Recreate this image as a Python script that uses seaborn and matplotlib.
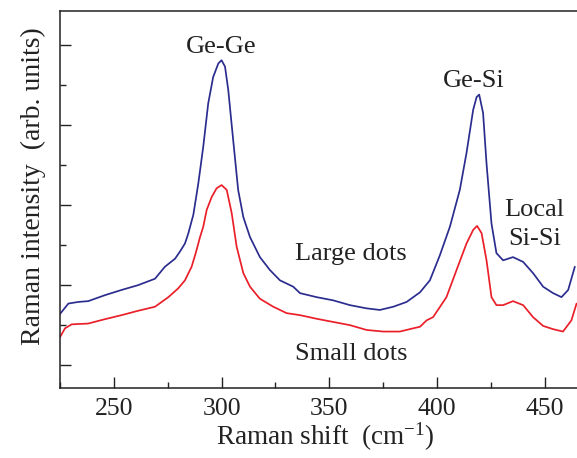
import numpy as np
import pandas as pd
import matplotlib
matplotlib.use("Agg")
import matplotlib.pyplot as plt
from matplotlib.ticker import MultipleLocator
import seaborn as sns

# Large dots (blue): Raman shift (cm^-1) vs intensity (arb. units)
large_shift = [225.0, 228.9, 233.5, 238.1, 245.9, 253.6, 261.3, 269.1, 273.7, 278.4,
               280.7, 283.0, 284.5, 286.9, 289.2, 291.5, 293.8, 296.1, 298.5,
               300.0, 301.6, 303.1, 305.4, 307.7, 310.1, 313.2, 317.8, 322.4, 327.1,
               333.3, 336.4, 344.1, 351.8, 359.6, 367.3, 373.5, 379.7, 385.9, 392.1,
               396.7, 401.3, 406.0, 410.6, 413.7, 416.8, 418.4, 419.6, 421.4, 423.0,
               425.3, 427.6, 430.7, 435.3, 440.0, 444.6, 449.3, 453.9, 457.8, 460.9,
               464.0]
large_int = [0.64, 0.77, 0.79, 0.80, 0.875, 0.94, 1.00, 1.08, 1.23, 1.33,
             1.42, 1.52, 1.64, 1.88, 2.27, 2.73, 3.27, 3.60, 3.77,
             3.81, 3.73, 3.44, 2.81, 2.19, 1.85, 1.60, 1.35, 1.19, 1.06,
             0.98, 0.90, 0.85, 0.81, 0.75, 0.71, 0.69, 0.73, 0.79, 0.91,
             1.06, 1.37, 1.73, 2.19, 2.65, 3.19, 3.35, 3.38, 3.15, 2.52,
             1.77, 1.40, 1.31, 1.35, 1.29, 1.15, 0.98, 0.90, 0.85, 0.94,
             1.23]

# Small dots (red)
small_shift = [225.0, 227.3, 230.4, 238.1, 245.9, 253.6, 261.3, 269.1, 275.3, 279.9,
               283.0, 286.1, 288.0, 290.0, 291.5, 293.1, 295.4, 297.7, 300.0, 302.4,
               304.7, 307.0, 310.1, 313.2, 317.8, 324.0, 330.2, 336.4, 344.1, 351.8,
               359.6, 367.3, 375.0, 382.8, 388.9, 392.1, 395.2, 398.2, 404.4, 409.1,
               413.7, 416.8, 418.6, 420.7, 423.0, 425.3, 427.6, 430.7, 435.3, 440.0,
               444.6, 449.3, 453.9, 458.5, 462.4, 464.8]
small_int = [0.35, 0.46, 0.51, 0.52, 0.575, 0.625, 0.68, 0.73, 0.85, 0.96,
             1.06, 1.23, 1.40, 1.60, 1.73, 1.94, 2.10, 2.21, 2.25, 2.19,
             1.90, 1.48, 1.15, 0.98, 0.83, 0.73, 0.65, 0.625, 0.58, 0.54,
             0.50, 0.44, 0.42, 0.42, 0.46, 0.48, 0.56, 0.60, 0.85, 1.19,
             1.52, 1.69, 1.74, 1.65, 1.31, 0.85, 0.75, 0.75, 0.80, 0.75,
             0.60, 0.49, 0.45, 0.42, 0.56, 0.77]

x_ticks = [250, 300, 350, 400, 450]

sns.set_style("ticks")
plt.rcParams['font.family'] = ['Liberation Serif', 'DejaVu Serif']
plt.rcParams['mathtext.default'] = 'regular'

df_large = pd.DataFrame({'shift': large_shift, 'intensity': large_int})
df_small = pd.DataFrame({'shift': small_shift, 'intensity': small_int})

fig = plt.figure(figsize=(5.77, 4.58), dpi=100)
ax = fig.add_axes([0.104, 0.152, 0.896, 0.824])

sns.lineplot(data=df_large, x='shift', y='intensity', ax=ax, color='#2b2d8e', lw=1.25)
sns.lineplot(data=df_small, x='shift', y='intensity', ax=ax, color='#ea1f29', lw=1.25)

ax.set_xlim(225, 465)
ax.set_ylim(-0.29, 4.425)
ax.set_xticks(x_ticks)
ax.xaxis.set_minor_locator(MultipleLocator(25))
ax.yaxis.set_major_locator(MultipleLocator(1))
ax.yaxis.set_minor_locator(MultipleLocator(0.5))
ax.set_yticklabels([])
ax.tick_params(which='major', direction='in', length=8, width=1, labelsize=18.5, pad=7,
               colors='#222222')
ax.tick_params(which='minor', direction='in', length=4, width=1, colors='#222222')
ax.tick_params(axis='y', which='major', labelleft=False)
ax.tick_params(axis='x', which='major', top=False)

for side in ['left', 'bottom', 'top']:
    ax.spines[side].set_linewidth(1.1)
    ax.spines[side].set_color('#222222')
ax.spines['right'].set_visible(False)

ax.set_xlabel('Raman shift  (cm$^{-1}$)', fontsize=19.5, color='#222222', labelpad=1)
ax.xaxis.set_label_coords(0.513, -0.085)
ax.set_ylabel('Raman intensity  (arb. units)', fontsize=20, color='#222222', labelpad=7)
ax.yaxis.set_label_coords(-0.028, 0.535)

txt = dict(fontsize=19, color='#222222', ha='center', va='baseline')
ax.text(299.6, 3.90, 'Ge-Ge', **txt)
ax.text(417.3, 3.48, 'Ge-Si', **txt)
ax.text(445.4, 1.86, 'Local', **txt)
ax.text(445.4, 1.50, 'Si-Si', **txt)
ax.text(360, 1.31, 'Large dots', **txt)
ax.text(360, 0.06, 'Small dots', **txt)

fig.savefig('out.png', dpi=100)
